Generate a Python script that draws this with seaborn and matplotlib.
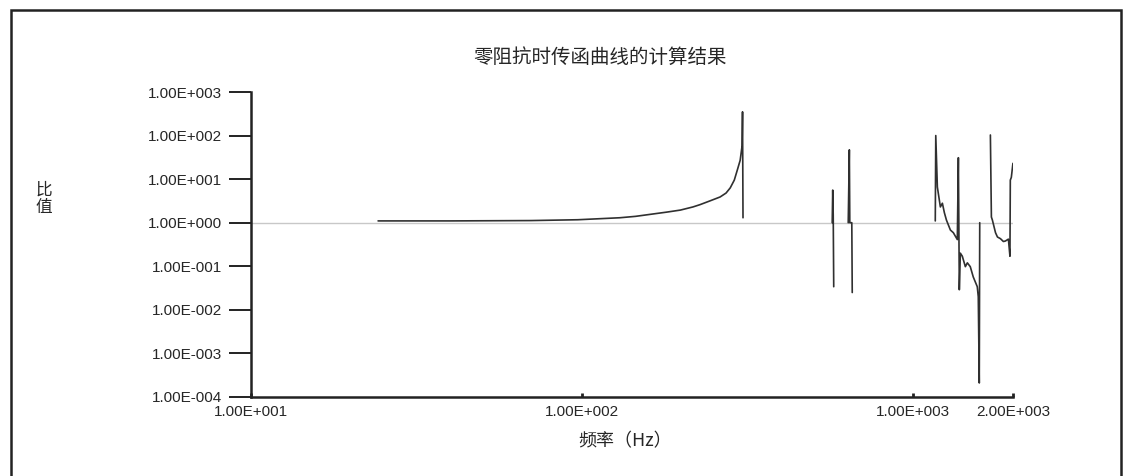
from matplotlib import pyplot as plt
from matplotlib.patches import Rectangle
from matplotlib.ticker import FuncFormatter, NullLocator
import numpy as np
import pandas as pd
import seaborn as sns

### DATA ###

TITLE = "零阻抗时传函曲线的计算结果"
XLABEL = "频率（Hz）"
YLABEL = "比\n值"
XTICKS = [10, 100, 1000, 2000]
YTICKS = [1e-4, 1e-3, 1e-2, 1e-1, 1e0, 1e1, 1e2, 1e3]

# smooth part rising to the first resonance
seg1_freq = [24.2, 40, 70, 97, 114, 130, 145, 160, 180, 198, 216, 227, 244,
             261, 272, 280, 288, 294, 300, 304, 305, 306]
seg1_ratio = [1.1, 1.1, 1.12, 1.17, 1.24, 1.3, 1.4, 1.55, 1.75, 1.95, 2.3, 2.6, 3.2,
              3.9, 4.8, 6.3, 9.5, 16, 27, 58, 350, 1.3]
# two narrow spikes around 600 Hz
seg2_freq = [569, 571, 573, 575]
seg2_ratio = [1.0, 5.6, 1.5, 0.034]
seg3_freq = [636, 641, 643, 652, 654]
seg3_ratio = [1.0, 47, 1.0, 1.0, 0.025]
# dense region above 1 kHz
seg4_freq = [1165, 1169, 1182, 1207, 1224, 1241, 1259, 1294, 1321, 1358, 1368,
             1377, 1387, 1406, 1436, 1456, 1486, 1517, 1560, 1571, 1582, 1587]
seg4_ratio = [1.1, 100, 6.6, 2.3, 2.8, 1.7, 1.15, 0.68, 0.59, 0.41, 31,
              0.029, 0.2, 0.17, 0.098, 0.12, 0.098, 0.057, 0.034, 0.02, 2.1e-4, 1.0]
seg5_freq = [1709, 1721, 1733, 1771, 1795, 1833, 1871, 1897, 1937, 1958, 1963, 1977, 1999]
seg5_ratio = [103, 1.35, 1.15, 0.59, 0.47, 0.43, 0.37, 0.38, 0.42, 0.17, 9.5, 11, 23]

segments = [(seg1_freq, seg1_ratio), (seg2_freq, seg2_ratio), (seg3_freq, seg3_ratio),
            (seg4_freq, seg4_ratio), (seg5_freq, seg5_ratio)]
df = pd.concat([pd.DataFrame({"freq": f, "ratio": r, "seg": i})
                for i, (f, r) in enumerate(segments)], ignore_index=True)

### PLOT ###

sns.set_style("white")
plt.rcParams['font.family'] = ['Liberation Sans', 'Noto Sans CJK SC', 'DejaVu Sans']
CJK = ['Noto Sans CJK SC', 'DejaVu Sans']

fig = plt.figure(figsize=(11.24, 4.76), dpi=100)
ax = fig.add_axes([251/1124, 1-397/476, (1013-251)/1124, (397-92)/476])

ax.axhline(1.0, color='#c8c8c8', lw=1.0, zorder=1)
sns.lineplot(data=df, x="freq", y="ratio", units="seg", estimator=None,
             sort=False, color='#303030', lw=1.2, ax=ax, zorder=3)

ax.set_xscale('log')
ax.set_yscale('log')
ax.set_xlim(10, 2000)
ax.set_ylim(1e-4, 1e3)
ax.set_xticks(XTICKS)
ax.set_yticks(YTICKS)
ax.xaxis.set_minor_locator(NullLocator())
ax.yaxis.set_minor_locator(NullLocator())

def sci(v, pos):
    e = int(np.floor(np.log10(v) + 1e-9))
    m = v / 10**e
    return f"{m:.2f}E{e:+04d}"

ax.xaxis.set_major_formatter(FuncFormatter(sci))
ax.yaxis.set_major_formatter(FuncFormatter(sci))
ax.tick_params(axis='y', left=True, direction='out', length=16, width=1.4,
               labelsize=11, pad=5, color='#222')
ax.tick_params(axis='x', bottom=True, direction='in', length=3, width=2,
               labelsize=11, pad=6, color='#222')
ax.set_xlabel("")
ax.set_ylabel("")

for side in ['top', 'right']:
    ax.spines[side].set_visible(False)
for side in ['left', 'bottom']:
    ax.spines[side].set_linewidth(1.8)
    ax.spines[side].set_color('#222')

fig.text(600/1124, 1-57/476, TITLE, family=CJK, fontsize=14, ha='center', va='center')
fig.text(625/1124, 1-441/476, XLABEL, family=CJK, fontsize=13, ha='center', va='center')
fig.text(44/1124, 1-199/476, YLABEL, family=CJK, fontsize=12, ha='center', va='center',
         linespacing=1.0)

# outer frame of the chart area
fig.patches.append(Rectangle((11/1124, -0.05), (1121-11)/1124, 1.05-10/476,
                             transform=fig.transFigure, fill=False,
                             edgecolor='#222', lw=1.8))

fig.savefig('out.png', dpi=100)
